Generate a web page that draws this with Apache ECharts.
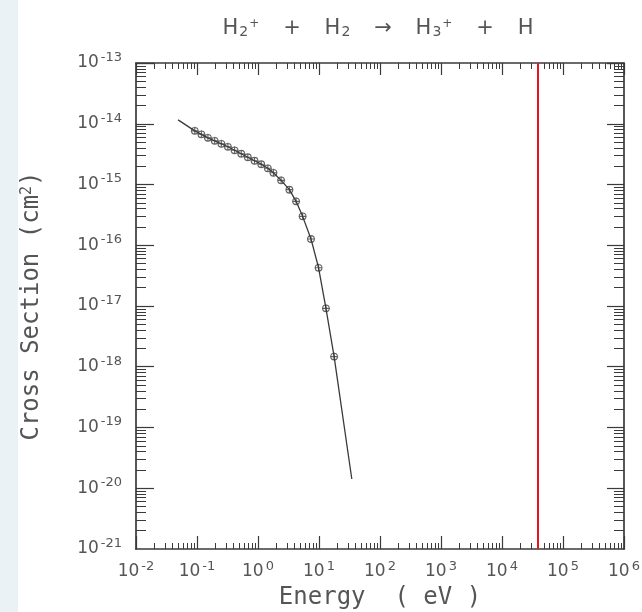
<!DOCTYPE html>
<html>
<head>
<meta charset="utf-8">
<script src="https://cdn.jsdelivr.net/npm/echarts@6/dist/echarts.min.js"></script>
<style>
  html, body { margin: 0; padding: 0; background: #ffffff; }
  #chart { width: 642px; height: 612px; }
</style>
</head>
<body>
<div id="chart"></div>
<script>
// Measured cross sections for H2+ + H2 -> H3+ + H
const energy = [0.092, 0.118, 0.151, 0.195, 0.251, 0.321, 0.413, 0.532, 0.681, 0.877,
                1.13, 1.45, 1.79, 2.39, 3.27, 4.21, 5.39, 7.39, 9.84, 13.0, 17.7];
const sigma = [7.64e-15, 6.70e-15, 5.87e-15, 5.24e-15, 4.68e-15, 4.18e-15, 3.66e-15, 3.21e-15,
               2.81e-15, 2.46e-15, 2.16e-15, 1.85e-15, 1.56e-15, 1.17e-15, 8.22e-16, 5.28e-16,
               2.99e-16, 1.27e-16, 4.26e-17, 9.14e-18, 1.47e-18];

// Fitted curve through the measurements, extended at both ends
const fitEnergy = [0.049].concat(energy, [34.5]);
const fitSigma = [1.16e-14].concat(sigma, [1.42e-20]);

// Vertical reference energy (eV)
const refEnergy = [38000];

// Decade exponents of the two axes (also the tick labels 10^n)
const xDecades = [-2, -1, 0, 1, 2, 3, 4, 5, 6];
const yDecades = [-21, -20, -19, -18, -17, -16, -15, -14, -13];

const ink = '#3a3a3a';
const textInk = '#555555';
const fontFam = 'DejaVu Sans';
const monoFam = 'DejaVu Sans Mono';

// minor tick positions (in log10 units) between decades: 2..9 x 10^k
function minorTicks(decades) {
  const out = [];
  for (let i = 0; i < decades.length - 1; i++) {
    for (let m = 2; m <= 9; m++) out.push(decades[i] + Math.log10(m));
  }
  return out;
}

const powRich = {
  b: { fontFamily: fontFam, fontSize: 17, color: textInk },
  s: { fontFamily: fontFam, fontSize: 13, color: textInk, padding: [0, 0, 11, 2] }
};
function powLabelFromExp(e) {
  return '{b|10}{s|' + Math.round(e) + '}';
}
function powLabel(v) {
  return powLabelFromExp(Math.log10(v));
}

const chart = echarts.init(document.getElementById('chart'), null, { renderer: 'canvas' });

const majorLine = { show: true, onZero: false, lineStyle: { color: ink, width: 1.7 } };
const noLine = { show: false, onZero: false };
const gap = ' \u2002 ';

chart.setOption({
  backgroundColor: '#ffffff',
  animation: false,
  title: {
    text: '{h|H}{sub|2}{sup|+}{h|' + gap + '+' + gap + 'H}{sub|2}{h|' + gap + '→' + gap + 'H}{sub|3}{sup|+}{h|' + gap + '+' + gap + 'H}',
    left: 373,
    top: 13,
    textAlign: 'center',
    textStyle: {
      fontWeight: 'normal',
      rich: {
        h: { fontFamily: fontFam, fontSize: 21, fontWeight: 'normal', color: textInk },
        sub: { fontFamily: fontFam, fontSize: 14, fontWeight: 'normal', color: textInk, verticalAlign: 'bottom', padding: [6, 0, 0, 1] },
        sup: { fontFamily: fontFam, fontSize: 12, fontWeight: 'normal', color: textInk, verticalAlign: 'top', padding: [0, 0, 8, 1] }
      }
    }
  },
  graphic: [{
    type: 'rect', left: 0, top: 0, z: -10,
    shape: { width: 18, height: 612 },
    style: { fill: '#eaf2f5' }
  }],
  grid: { left: 136, right: 18, top: 63, bottom: 63, containLabel: false, outerBoundsMode: 'none' },
  xAxis: [
    {
      type: 'log', logBase: 10, min: 0.01, max: 1e6, position: 'bottom',
      name: 'Energy  ( eV )', nameLocation: 'middle', nameGap: 37, nameMoveOverlap: false,
      nameTextStyle: { fontFamily: monoFam, fontSize: 24, color: textInk },
      axisLine: majorLine,
      axisTick: { show: true, inside: true, length: 13, lineStyle: { color: ink, width: 1.2 } },
      axisLabel: { formatter: powLabel, rich: powRich, margin: 11, showMinLabel: true, showMaxLabel: true, hideOverlap: false },
      splitLine: { show: false }
    },
    {
      type: 'value', min: xDecades[0], max: xDecades[xDecades.length - 1], position: 'bottom',
      axisLine: noLine,
      axisTick: { show: true, inside: true, length: 6, customValues: minorTicks(xDecades), lineStyle: { color: ink, width: 1 } },
      axisLabel: { show: false }, splitLine: { show: false }
    },
    {
      type: 'log', logBase: 10, min: 0.01, max: 1e6, position: 'top',
      axisLine: majorLine,
      axisTick: { show: true, inside: true, length: 12, lineStyle: { color: ink, width: 1.2 } },
      axisLabel: { show: false }, splitLine: { show: false }
    },
    {
      type: 'value', min: xDecades[0], max: xDecades[xDecades.length - 1], position: 'top',
      axisLine: noLine,
      axisTick: { show: true, inside: true, length: 6, customValues: minorTicks(xDecades), lineStyle: { color: ink, width: 1 } },
      axisLabel: { show: false }, splitLine: { show: false }
    }
  ],
  yAxis: [
    {
      type: 'log', logBase: 10, min: 1e-21, max: 1e-13, position: 'left',
      name: '{n|Cross Section (cm}{s|2}{n|)}', nameLocation: 'middle', nameGap: 92, nameRotate: 90,
      nameMoveOverlap: false,
      nameTextStyle: {
        rich: {
          n: { fontFamily: monoFam, fontSize: 24, color: textInk },
          s: { fontFamily: monoFam, fontSize: 15, color: textInk, verticalAlign: 'top', padding: [0, 0, 8, 0] }
        }
      },
      axisLine: majorLine,
      axisTick: { show: true, inside: true, length: 18, lineStyle: { color: ink, width: 1.2 } },
      axisLabel: { show: false },
      splitLine: { show: false }
    },
    {
      // log10 companion axis: minor ticks and the decade labels
      type: 'value', min: yDecades[0], max: yDecades[yDecades.length - 1], interval: 1, position: 'left',
      axisLine: noLine,
      axisTick: { show: true, inside: true, length: 10, customValues: minorTicks(yDecades), lineStyle: { color: ink, width: 1 } },
      axisLabel: { show: true, customValues: yDecades, formatter: powLabelFromExp, rich: powRich, margin: 14,
                   showMinLabel: true, showMaxLabel: true, hideOverlap: false },
      splitLine: { show: false }
    },
    {
      type: 'log', logBase: 10, min: 1e-21, max: 1e-13, position: 'right',
      axisLine: majorLine,
      axisTick: { show: true, inside: true, length: 17, lineStyle: { color: ink, width: 1.2 } },
      axisLabel: { show: false }, splitLine: { show: false }
    },
    {
      type: 'value', min: yDecades[0], max: yDecades[yDecades.length - 1], position: 'right',
      axisLine: noLine,
      axisTick: { show: true, inside: true, length: 10, customValues: minorTicks(yDecades), lineStyle: { color: ink, width: 1 } },
      axisLabel: { show: false }, splitLine: { show: false }
    }
  ],
  series: [
    {
      name: 'fit',
      type: 'line',
      xAxisIndex: 0, yAxisIndex: 0,
      data: fitEnergy.map((e, i) => [e, fitSigma[i]]),
      showSymbol: false,
      lineStyle: { color: ink, width: 1.3 },
      markLine: {
        silent: true,
        symbol: ['none', 'none'],
        label: { show: false },
        lineStyle: { color: '#e8141c', width: 2, type: 'solid' },
        data: refEnergy.map(v => ({ xAxis: v }))
      },
      z: 2
    },
    {
      name: 'measured',
      type: 'scatter',
      xAxisIndex: 0, yAxisIndex: 0,
      data: energy.map((e, i) => [e, sigma[i]]),
      symbol: 'path://M5,0 A5,5 0 1,1 5,10 A5,5 0 1,1 5,0 Z M-1,5 L11,5 M5,-1 L5,11',
      symbolSize: 8,
      itemStyle: { color: 'rgba(255,255,255,0)', borderColor: ink, borderWidth: 1.1 },
      z: 3
    }
  ]
});
</script>
</body>
</html>
